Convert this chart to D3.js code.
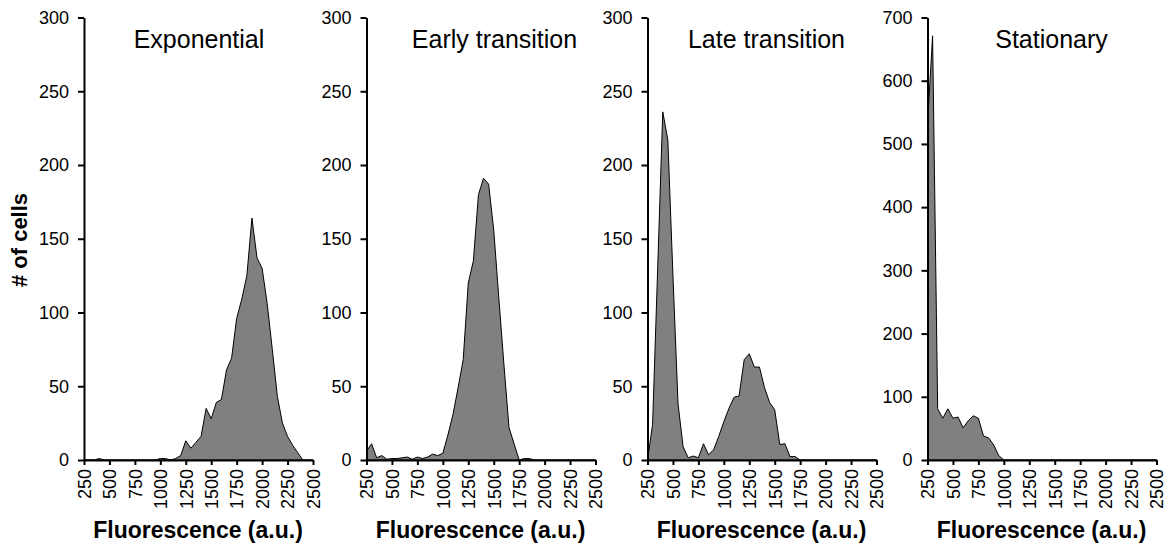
<!DOCTYPE html>
<html>
<head>
<meta charset="utf-8">
<script src="https://cdn.jsdelivr.net/npm/d3@7"></script>
<style>
	body { margin: 0; background: #fff; }
	svg { font-family: "Liberation Sans", Arial, sans-serif; }
	.axis path, .axis line { stroke: #000; stroke-width: 2; }
	.axis text { font-size: 18px; fill: #000; }
</style>
</head>
<body>
<div id="chart"></div>
<script>
// fluorescence bins (a.u.)
const bins = [250, 300, 350, 400, 450, 500, 550, 600, 650, 700, 750, 800, 850, 900, 950, 1000,
	1050, 1100, 1150, 1200, 1250, 1300, 1350, 1400, 1450, 1500, 1550, 1600, 1650, 1700, 1750,
	1800, 1850, 1900, 1950, 2000, 2050, 2100, 2150, 2200, 2250, 2300, 2350, 2400, 2450, 2500];

const phases = ["Exponential", "Early transition", "Late transition", "Stationary"];

// # of cells per bin
const exponential = [0, 0, 0, 1, 0, 0, 0, 0, 0, 0, 0, 0, 0, 0, 0, 1,
	1, 0, 1, 3, 13, 8, 12, 16, 35, 28, 39, 41, 61, 69, 96,
	109, 125, 164, 137, 130, 106, 75, 43, 25, 16, 10, 5, 0, 0, 0];
const earlyTransition = [6, 11, 1.5, 3, 0.5, 1, 1, 1.5, 2, 0.5, 2, 1, 2, 4, 3, 4.5,
	17, 31, 49, 68, 120, 135, 180, 191, 187, 156, 110, 65, 22, 11, 0,
	1, 1, 0, 0, 0, 0, 0, 0, 0, 0, 0, 0, 0, 0, 0];
const lateTransition = [0, 24, 130, 236, 217, 125, 38, 9, 1.5, 2.7, 1.5, 11, 3.5, 7, 16, 26,
	35, 42.5, 43.5, 68, 72, 63, 63, 49, 39, 34, 10.5, 11, 2.3, 2.3, 0,
	0, 0, 0, 0, 0, 0, 0, 0, 0, 0, 0, 0, 0, 0, 0];
const stationary = [530, 671, 81, 66, 81, 66, 68, 51, 62, 70, 66, 38, 35, 24, 7, 0,
	0, 0, 0, 0, 0, 0, 0, 0, 0, 0, 0, 0, 0, 0, 0,
	0, 0, 0, 0, 0, 0, 0, 0, 0, 0, 0, 0, 0, 0, 0];

const xTicks = [250, 500, 750, 1000, 1250, 1500, 1750, 2000, 2250, 2500];
const yTicksLow = [0, 50, 100, 150, 200, 250, 300];
const yTicksHigh = [0, 100, 200, 300, 400, 500, 600, 700];

const series = [exponential, earlyTransition, lateTransition, stationary];
const yTicks = [yTicksLow, yTicksLow, yTicksLow, yTicksHigh];

// layout
let panelLeft	= [84, 366.5, 647.5, 927.5];
let titleShift	= [115, 128, 119, 124];
let panelWidth	= 229;
let plotTop		= 17.5;
let plotBottom	= 460;
let plotHeight	= plotBottom - plotTop;

let svg = d3.select("#chart").append("svg")
	.attr("width", 1167)
	.attr("height", 546);

series.forEach((values, i) => {
	let ticks = yTicks[i];
	let x = d3.scaleLinear().domain([bins[0], bins[bins.length - 1]]).range([0, panelWidth]);
	let y = d3.scaleLinear().domain([0, ticks[ticks.length - 1]]).range([plotHeight, 0]);

	let g = svg.append('g')
		.attr("transform", "translate(" + panelLeft[i] + "," + plotTop + ")");

	let area = d3.area()
		.x((d, j) => x(bins[j]))
		.y0(y(0))
		.y1((d) => y(d));

	g.append('path')
		.datum(values)
		.attr('d', area)
		.attr('fill', '#808080')
		.attr('stroke', '#000')
		.attr('stroke-width', 1);

	g.append('g')
		.attr('class', 'axis')
		.call(d3.axisLeft(y).tickValues(ticks).tickSize(6).tickSizeOuter(0).tickPadding(9));

	g.append('g')
		.attr('class', 'axis')
		.attr("transform", "translate(0," + plotHeight + ")")
		.call(d3.axisBottom(x).tickValues(xTicks).tickSize(5).tickSizeOuter(0).tickFormat(d3.format("d")))
		.selectAll('.tick text')
			.attr('transform', 'rotate(-90)')
			.attr('text-anchor', 'end')
			.attr('x', -9)
			.attr('y', 0)
			.attr('dy', '0.35em');

	g.append('text')
		.attr('x', titleShift[i])
		.attr('y', 48 - plotTop)
		.attr('text-anchor', 'middle')
		.style('font-size', '25px')
		.text(phases[i]);

	g.append('text')
		.attr('x', 114)
		.attr('y', 538 - plotTop)
		.attr('text-anchor', 'middle')
		.style('font-size', '23px')
		.style('font-weight', 'bold')
		.text("Fluorescence (a.u.)");
});

svg.append('text')
	.attr('transform', 'translate(27,240) rotate(-90)')
	.attr('text-anchor', 'middle')
	.style('font-size', '22px')
	.style('font-weight', 'bold')
	.text("# of cells");
</script>
</body>
</html>
